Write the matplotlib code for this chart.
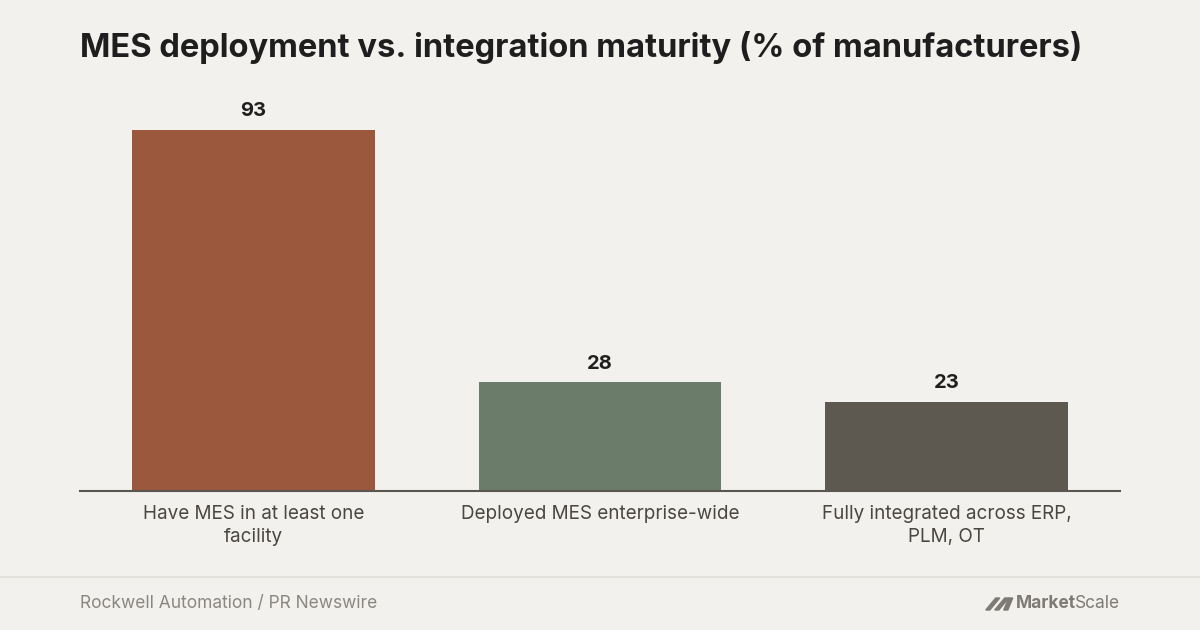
import matplotlib.pyplot as plt
from matplotlib.lines import Line2D
from matplotlib.patches import Polygon

categories = ['Have MES in at least one\nfacility',
              'Deployed MES enterprise-wide',
              'Fully integrated across ERP,\nPLM, OT']
values = [93, 28, 23]
colors = ['#9B583C', '#6B7C6B', '#5D5850']

title = 'MES deployment vs. integration maturity (% of manufacturers)'
source = 'Rockwell Automation / PR Newswire'

BG = '#F3F1ED'
W, H = 1200, 630
plt.rcParams['font.family'] = ['Inter', 'DejaVu Sans']

fig = plt.figure(figsize=(12, 6.3), dpi=100, facecolor=BG)
# axes: x 80..1120 px, baseline at y=491, top at y=103
ax = fig.add_axes([80 / W, (H - 491) / H, 1040 / W, 388 / H])
ax.set_facecolor(BG)

x = range(len(values))
bars = ax.bar(x, values, width=0.7, color=colors, zorder=2)
for b, v in zip(bars, values):
    ax.text(b.get_x() + b.get_width() / 2, v + 2.5, str(v), ha='center', va='bottom',
            fontsize=14.5, fontweight='bold', color='#1F1F1F')

ax.set_xlim(-0.5, len(values) - 0.5)
ax.set_ylim(0, 100)
ax.set_yticks([])
ax.set_xticks(list(x))
ax.set_xticklabels(categories, fontsize=13.6, color='#4A4742', linespacing=1.4)
ax.tick_params(axis='x', length=0, pad=10)
for s in ['top', 'right', 'left']:
    ax.spines[s].set_visible(False)
ax.spines['bottom'].set_color('#5A5650')
ax.spines['bottom'].set_linewidth(1.5)
ax.spines['bottom'].set_zorder(3)

fig.text(80 / W, 1 - 48 / H, title, fontsize=23.5, fontweight='bold',
         color='#1E1E1E', va='center', ha='left')

# footer
fig.add_artist(Line2D([0, 1], [1 - 577 / H] * 2, color='#E4E1DC', lw=1.5))
fig.text(80 / W, 1 - 603 / H, source, fontsize=12.5, color='#8A8782',
         va='center', ha='left')

logo_c = '#7E7B77'
r = fig.canvas.get_renderer()
t2 = fig.text(1120 / W, 1 - 604 / H, 'Scale', fontsize=12.5, color=logo_c,
              va='center', ha='right')
x2 = t2.get_window_extent(r).x0
t1 = fig.text((x2 + 1) / W, 1 - 604 / H, 'Market', fontsize=12.5, color=logo_c,
              fontweight='bold', va='center', ha='right')
x1 = t1.get_window_extent(r).x0
# little slanted mark before the wordmark
yb, yt = 1 - 610 / H, 1 - 598 / H
for off in [0, 9]:
    px = x1 - 30 + off
    fig.add_artist(Polygon([((px) / W, yb), ((px + 4) / W, yb), ((px + 14) / W, yt),
                            ((px + 10) / W, yt)], closed=True, color=logo_c))
fig.add_artist(Polygon([((x1 - 12) / W, yb), ((x1 - 8) / W, yb), ((x1 - 3) / W, yt),
                        ((x1 - 7) / W, yt)], closed=True, color=logo_c))

fig.savefig('out.png', dpi=100, facecolor=BG)
